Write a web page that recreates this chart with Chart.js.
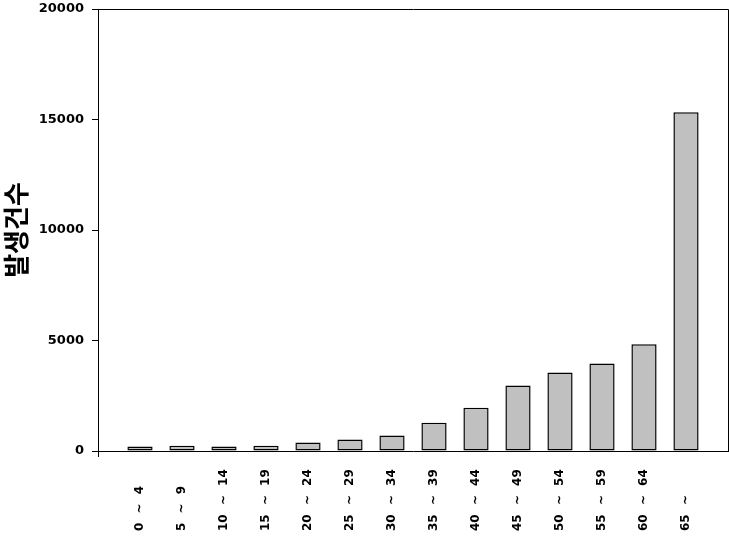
<!DOCTYPE html>
<html>
<head>
<meta charset="utf-8">
<script src="https://cdn.jsdelivr.net/npm/chart.js@4/dist/chart.umd.min.js"></script>
<style>
  html, body { margin: 0; padding: 0; background: #fff; }
  canvas { display: block; }
</style>
</head>
<body>
<canvas id="c" width="729" height="539"></canvas>
<script>
const categories = ['0 ~ 4', '5 ~ 9', '10 ~ 14', '15 ~ 19', '20 ~ 24', '25 ~ 29', '30 ~ 34',
  '35 ~ 39', '40 ~ 44', '45 ~ 49', '50 ~ 54', '55 ~ 59', '60 ~ 64', '65 ~'];
const cases = [200, 240, 200, 240, 385, 520, 700, 1280, 1960, 2960, 3550, 3960, 4830, 15330];
const yTicks = [0, 5000, 10000, 15000, 20000];
const yTitle = '발생건수';

// one empty slot at each end of the category axis
const labels = [''].concat(categories, ['']);
const values = [null].concat(cases, [null]);

const frameAndLabels = {
  id: 'frameAndLabels',
  afterDraw(chart) {
    const ctx = chart.ctx;
    const a = chart.chartArea;
    const xs = chart.scales.x;
    ctx.save();
    ctx.strokeStyle = '#000';
    ctx.lineWidth = 1;
    ctx.beginPath();
    ctx.moveTo(Math.round(a.left) + 0.5, Math.round(a.top) + 0.5);
    ctx.lineTo(Math.round(a.right) + 0.5, Math.round(a.top) + 0.5);
    ctx.lineTo(Math.round(a.right) + 0.5, Math.round(a.bottom) + 0.5);
    ctx.moveTo(Math.round(a.left) + 0.5, Math.round(a.bottom));
    ctx.lineTo(Math.round(a.left) + 0.5, Math.round(a.bottom) + 6);
    ctx.stroke();
    ctx.fillStyle = '#000';
    ctx.font = 'bold 12px "DejaVu Sans"';
    if ('wordSpacing' in ctx) ctx.wordSpacing = '5px';
    ctx.textAlign = 'left';
    ctx.textBaseline = 'middle';
    categories.forEach((c, i) => {
      const x = xs.getPixelForValue(i + 1);
      ctx.save();
      ctx.translate(x, 531);
      ctx.rotate(-Math.PI / 2);
      ctx.fillText(c, 0, 0);
      ctx.restore();
    });
    ctx.restore();
  }
};

new Chart(document.getElementById('c'), {
  type: 'bar',
  data: {
    labels: labels,
    datasets: [{
      data: values,
      backgroundColor: '#c0c0c0',
      borderColor: '#000',
      borderWidth: 1.5,
      borderSkipped: false,
      barPercentage: 0.6,
      categoryPercentage: 1.0
    }]
  },
  options: {
    responsive: false,
    animation: false,
    layout: { padding: { top: 9, right: 1, left: 0, bottom: 0 } },
    plugins: { legend: { display: false }, tooltip: { enabled: false } },
    scales: {
      x: {
        offset: false,
        grid: { display: false },
        border: { display: true, color: '#000', width: 1 },
        ticks: { display: false },
        afterFit(s) { s.height = 88; s.paddingLeft = 0; s.paddingRight = 0; }
      },
      y: {
        min: 0,
        max: 20000,
        afterBuildTicks(s) { s.ticks = yTicks.map(v => ({ value: v })); },
        grid: { drawOnChartArea: false, drawTicks: true, tickLength: 6, color: '#000', lineWidth: 1 },
        border: { display: true, color: '#000', width: 1 },
        ticks: {
          color: '#000',
          padding: 8,
          font: { family: 'DejaVu Sans', size: 13, weight: 'bold' },
          callback: (v) => String(v)
        },
        title: {
          display: true,
          text: yTitle,
          color: '#000',
          padding: { top: 1, bottom: 0 },
          font: { family: 'Noto Sans CJK KR', size: 26, weight: 'bold' }
        },
        afterFit(s) { s.width = 98; s.paddingTop = 0; s.paddingBottom = 0; }
      }
    }
  },
  plugins: [frameAndLabels]
});
</script>
</body>
</html>
